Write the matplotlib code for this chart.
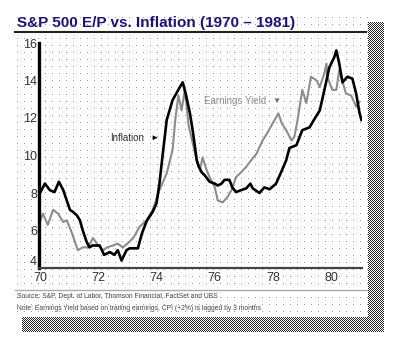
# S&P 500 earnings yield vs inflation, 1970-1981

import matplotlib
matplotlib.use('Agg')
import matplotlib.pyplot as plt
from matplotlib.lines import Line2D
import numpy as np

plt.rcParams['font.family'] = ['Liberation Sans', 'DejaVu Sans']

# Inflation (CPI +2%, lagged 3 months) - black line
infl_year = [70.0, 70.17, 70.34, 70.5, 70.65, 70.8, 70.92, 71.03, 71.13, 71.27,
             71.37, 71.47, 71.6, 71.7, 71.8, 72.05, 72.2, 72.4, 72.55, 72.67,
             72.8, 72.97, 73.08, 73.36, 73.5, 73.66, 73.87, 74.0, 74.1, 74.2,
             74.35, 74.55, 74.8, 74.9, 75.0, 75.14, 75.24, 75.38, 75.45, 75.55,
             75.65, 75.82, 76.0, 76.1, 76.23, 76.33, 76.5, 76.6, 76.73, 76.9,
             77.08, 77.22, 77.3, 77.53, 77.7, 77.88, 78.1, 78.2, 78.3, 78.45,
             78.56, 78.8, 79.0, 79.25, 79.4, 79.6, 79.76, 79.93, 80.1, 80.17,
             80.27, 80.38, 80.55, 80.72, 80.85, 80.96, 81.03]
infl_val = [8.0, 8.5, 8.15, 8.05, 8.6, 8.15, 7.6, 7.1, 7.0, 6.8,
            6.55, 6.0, 5.4, 5.1, 5.2, 5.2, 4.7, 4.85, 4.7, 4.95,
            4.4, 4.95, 5.05, 5.05, 5.85, 6.5, 7.0, 7.45, 8.5, 9.9,
            11.9, 12.95, 13.65, 13.9, 13.3, 12.3, 11.35, 9.75, 9.4, 9.1,
            8.95, 8.6, 8.5, 8.4, 8.5, 8.7, 8.7, 8.3, 8.05, 8.15,
            8.25, 8.5, 8.25, 8.0, 8.3, 8.2, 8.5, 8.85, 9.2, 9.75,
            10.4, 10.55, 11.35, 11.5, 11.9, 12.4, 13.5, 14.7, 15.25, 15.6,
            14.9, 13.9, 14.2, 14.1, 13.3, 12.3, 11.9]

# Earnings yield (trailing) - grey line
ey_year = [70.0, 70.1, 70.27, 70.45, 70.62, 70.8, 70.92, 71.1, 71.3, 71.47,
           71.65, 71.82, 72.0, 72.17, 72.3, 72.5, 72.67, 72.84, 73.0, 73.2,
           73.42, 73.66, 73.87, 74.1, 74.35, 74.55, 74.65, 74.75, 74.86, 74.97,
           75.1, 75.25, 75.4, 75.5, 75.58, 75.7, 75.82, 76.0, 76.1, 76.27,
           76.44, 76.57, 76.73, 76.9, 77.08, 77.25, 77.43, 77.64, 77.8, 77.98,
           78.18, 78.3, 78.45, 78.63, 78.73, 78.84, 79.0, 79.14, 79.3, 79.49,
           79.6, 79.76, 79.83, 79.86, 80.03, 80.17, 80.27, 80.5, 80.68, 80.85,
           80.96]
ey_val = [6.45, 6.9, 6.3, 7.1, 6.9, 6.45, 6.55, 5.85, 4.95, 5.1,
          5.1, 5.6, 5.2, 4.95, 5.1, 5.2, 5.3, 5.1, 5.3, 5.6,
          6.2, 6.55, 7.1, 8.15, 9.05, 10.3, 12.0, 13.2, 12.4, 13.5,
          11.6, 10.6, 9.6, 9.3, 9.9, 9.3, 8.85, 8.3, 7.6, 7.5,
          7.8, 8.15, 8.85, 9.1, 9.4, 9.75, 10.1, 10.8, 11.2, 11.7,
          12.25, 11.7, 11.35, 10.8, 11.0, 11.9, 13.5, 12.8, 14.2, 14.0,
          13.65, 14.4, 14.9, 14.2, 13.5, 13.5, 14.55, 13.3, 13.2, 12.6,
          12.85]

x_ticks = [70, 72, 74, 76, 78, 80]
y_ticks = [4, 6, 8, 10, 12, 14, 16]

W, H = 404, 352
fig = plt.figure(figsize=(W / 100, H / 100), dpi=100)

# slide background: dotted panel with a dithered drop shadow
bg = np.ones((H, W, 3))
for yy in range(17, 316, 7):
    for xx in range(17, 368, 7):
        bg[yy, xx] = 0.62
for yy in range(H):
    for xx in range(W):
        in_right = 368 <= xx <= 383 and 22 <= yy <= 331
        in_bottom = 317 <= yy <= 331 and 22 <= xx <= 383
        if (in_right or in_bottom) and (xx + yy) % 2 == 0:
            bg[yy, xx] = 0.15
bax = fig.add_axes([0, 0, 1, 1])
bax.imshow(bg, extent=(0, W, H, 0), aspect='auto', interpolation='nearest')
bax.set_xlim(0, W)
bax.set_ylim(H, 0)
bax.axis('off')

ax = fig.add_axes([38.5 / W, 1 - 268 / H, (362 - 38.5) / W, (268 - 43) / H])
ax.patch.set_alpha(0)

ax.plot(ey_year, ey_val, color='#8c8c8c', lw=1.5, zorder=2)
ax.plot(infl_year, infl_val, color='black', lw=1.9, zorder=3)

ax.set_xlim(69.95, 81.05)
ax.set_ylim(4, 16)
ax.set_xticks(x_ticks)
ax.set_yticks(y_ticks)
ax.tick_params(length=0, labelsize=9, colors='#333333', pad=3)
ax.tick_params(axis='y', pad=1)
ax.yaxis.get_major_ticks()[0].label1.set_verticalalignment('bottom')

for s in ['top', 'right']:
    ax.spines[s].set_visible(False)
ax.spines['left'].set_linewidth(2.4)
ax.spines['left'].set_color('black')
ax.spines['bottom'].set_linewidth(1.6)
ax.spines['bottom'].set_color('#444444')

# series labels
ax.text(73.0, 10.93, 'Inflation', fontsize=7, color='#333333', ha='center', va='center')
ax.text(73.94, 10.93, '\u25ba', fontsize=6, color='black', ha='center', va='center')
ax.text(76.68, 12.9, 'Earnings Yield', fontsize=7, color='#8a8a8a', ha='center', va='center')
ax.text(78.1, 12.9, '\u25bc', fontsize=6, color='#707070', ha='center', va='center')

# title, rules and footnotes
fig.text(17 / W, 1 - 23 / H, 'S&P 500 E/P vs. Inflation (1970 \u2013 1981)',
         fontsize=11, fontweight='bold', color='#22107a', ha='left', va='center')
fig.add_artist(Line2D([15 / W, 366 / W], [1 - 32 / H, 1 - 32 / H],
                      color='#222222', lw=1.5))
fig.add_artist(Line2D([15 / W, 366 / W], [1 - 290 / H, 1 - 290 / H],
                      color='#aaaaaa', lw=1.0))
fig.text(17 / W, 1 - 297 / H, 'Source: S&P, Dept. of Labor, Thomson Financial, FactSet and UBS',
         fontsize=4.85, color='#444444', ha='left', va='center')
fig.text(17 / W, 1 - 309 / H,
         'Note: Earnings Yield based on trailing earnings, CPI (+2%) is lagged by 3 months',
         fontsize=4.85, color='#444444', ha='left', va='center')

fig.savefig('out.png', dpi=100)
